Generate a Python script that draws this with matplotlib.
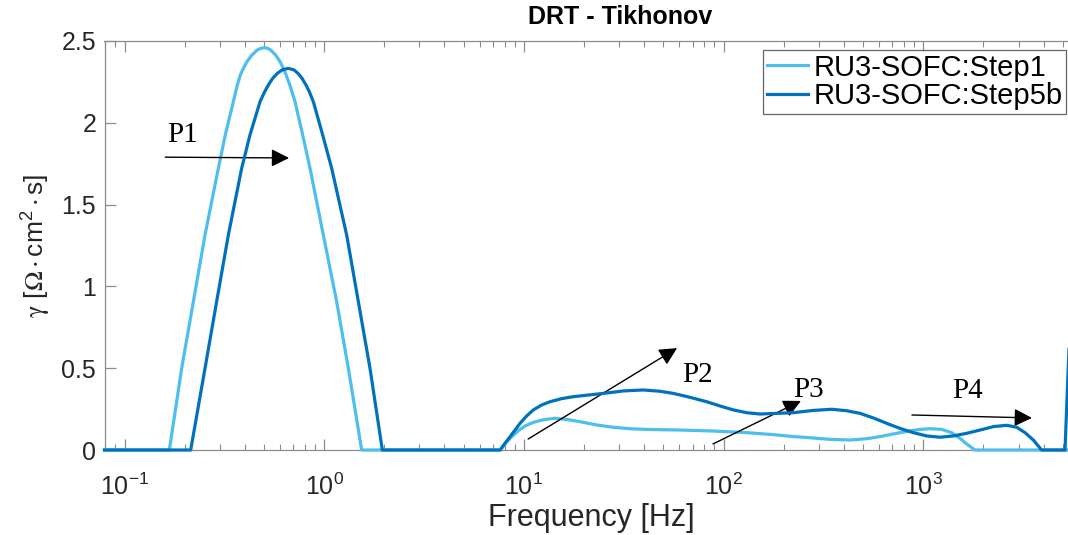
import matplotlib
matplotlib.use("Agg")
import matplotlib.pyplot as plt
from matplotlib.ticker import LogLocator, FixedLocator, FixedFormatter, NullFormatter

plt.rcParams['font.family'] = ['Liberation Sans', 'DejaVu Sans']
plt.rcParams['mathtext.fontset'] = 'stix'
plt.rcParams['mathtext.default'] = 'regular'

# ---- data ----
freq_step1 = [0.0794, 0.1677, 0.1933, 0.2212, 0.2530, 0.2950, 0.3197, 0.3507, 0.3673, 0.3802,
              0.3937, 0.4106, 0.4341, 0.4625, 0.4807, 0.5014, 0.5208, 0.5391, 0.5715, 0.6006,
              0.6243, 0.6449, 0.6730, 0.7143, 0.7801, 0.8490,
              0.9901, 1.1545, 1.3209, 1.540,
              7.65, 8.20, 8.69, 9.38, 10.13, 11.15, 12.51, 14.31, 16.38, 19.10, 23.14, 28.05,
              33.98, 41.19, 60.48, 88.8, 130.5, 177.5, 223.5, 270.8, 341.1, 429.5, 520.5,
              607.0, 707.9, 825.5, 962.7, 1080.3, 1236, 1387, 1527, 1649, 1815, 10000]
gamma_step1 = [0, 0, 0.499, 0.907, 1.314, 1.722, 1.926, 2.129, 2.231, 2.292,
               2.333, 2.374, 2.414, 2.445, 2.455, 2.459, 2.455, 2.445, 2.414, 2.374,
               2.333, 2.292, 2.231, 2.129, 1.926, 1.722,
               1.314, 0.907, 0.499, 0,
               0, 0.051, 0.081, 0.118, 0.147, 0.169, 0.185, 0.194, 0.187, 0.173, 0.153, 0.139,
               0.130, 0.126, 0.122, 0.116, 0.106, 0.094, 0.082, 0.075, 0.065, 0.061, 0.069,
               0.082, 0.098, 0.114, 0.126, 0.130, 0.126, 0.106, 0.071, 0.037, 0, 0]

freq_step5b = [0.0794, 0.2145, 0.2530, 0.2893, 0.3311, 0.3861, 0.4250, 0.4772, 0.5034, 0.5253,
               0.5521, 0.5825, 0.6146, 0.6612, 0.7064, 0.7395, 0.7739, 0.8108, 0.8424, 0.8823,
               0.9824, 1.0899, 1.2957, 1.4823, 1.6957, 1.9545,
               7.59, 8.04, 8.52, 9.03, 9.56, 10.32, 11.15, 12.27, 13.51, 15.46, 17.69, 21.02,
               24.99, 31.48, 39.65, 48.04, 56.02, 67.88, 82.27, 95.94, 111.9, 130.5, 152.2,
               184.4, 223.5, 281.4, 347.6, 413.4, 482.1, 562.2, 655.7, 764.6, 891.5, 1039.7,
               1212.5, 1414, 1649, 1923, 2243, 2616, 2935, 3231, 3556, 3915, 5124, 5321, 5530]
gamma_step5b = [0, 0, 0.499, 0.907, 1.314, 1.722, 1.926, 2.129, 2.190, 2.231,
                2.272, 2.302, 2.323, 2.333, 2.323, 2.302, 2.272, 2.231, 2.190, 2.129,
                1.926, 1.722, 1.314, 0.907, 0.499, 0,
                0, 0.041, 0.081, 0.122, 0.163, 0.208, 0.245, 0.275, 0.295, 0.314, 0.326, 0.336,
                0.346, 0.361, 0.367, 0.359, 0.346, 0.322, 0.295, 0.269, 0.245, 0.228, 0.220,
                0.224, 0.228, 0.242, 0.249, 0.240, 0.224, 0.196, 0.163, 0.132, 0.106, 0.086,
                0.078, 0.086, 0.102, 0.122, 0.143, 0.151, 0.139, 0.106, 0.061, 0, 0, 0.509, 1.0]

series_labels = ['RU3-SOFC:Step1', 'RU3-SOFC:Step5b']
series_colors = ['#4DBEEE', '#0072BD']

y_ticks = [0, 0.5, 1, 1.5, 2, 2.5]
y_ticklabels = ['0', '0.5', '1', '1.5', '2', '2.5']
x_ticks = [0.1, 1, 10, 100, 1000, 10000]
x_ticklabels = [r'$10^{-1}$', r'$10^{0}$', r'$10^{1}$', r'$10^{2}$', r'$10^{3}$', '']

# ---- figure ----
W, H = 1068, 535
fig = plt.figure(figsize=(W / 100, H / 100), dpi=100)
ax_left, ax_right, ax_bottom, ax_top = 104.5 / W, 1123 / W, 1 - 450 / H, 1 - 41 / H
ax = fig.add_axes([ax_left, ax_bottom, ax_right - ax_left, ax_top - ax_bottom])

ax.plot(freq_step1, gamma_step1, color=series_colors[0], lw=2.3, label=series_labels[0],
        clip_on=False, solid_joinstyle='round', zorder=3)
ax.plot(freq_step5b, gamma_step5b, color=series_colors[1], lw=2.3, label=series_labels[1],
        clip_on=False, solid_joinstyle='round', zorder=4)

ax.set_xscale('log')
ax.set_xlim(0.0794, 1e4)
ax.set_ylim(0, 2.5)
ax.yaxis.set_major_locator(FixedLocator(y_ticks))
ax.yaxis.set_major_formatter(FixedFormatter(y_ticklabels))
ax.xaxis.set_major_locator(FixedLocator(x_ticks))
ax.xaxis.set_major_formatter(FixedFormatter(x_ticklabels))
ax.xaxis.set_minor_locator(LogLocator(base=10, subs=range(2, 10), numticks=50))
ax.xaxis.set_minor_formatter(NullFormatter())

spine_col = '#8c8c8c'
for side in ['left', 'top', 'bottom']:
    ax.spines[side].set_color(spine_col)
    ax.spines[side].set_linewidth(0.9)
ax.spines['right'].set_visible(False)

ax.tick_params(axis='both', which='both', direction='in', colors=spine_col,
               labelcolor='#262626', top=True, right=False)
ax.tick_params(axis='both', which='major', length=8, width=0.9, labelsize=18)
ax.tick_params(axis='x', which='minor', length=4, width=0.8)
ax.tick_params(axis='x', which='major', pad=17)
ax.tick_params(axis='y', which='major', pad=6)

fig.text(591 / W, 1 - 518 / H, 'Frequency [Hz]', ha='center', va='center',
         fontsize=22, color='#262626')
ax.set_ylabel(r'$\mathrm{\gamma}$ [$\mathrm{\Omega}\cdot$cm$^{2}\cdot$s]', fontsize=19,
              color='#262626', labelpad=6)

fig.text(620 / W, 1 - 17 / H, 'DRT - Tikhonov', ha='center', va='center',
         fontsize=18, fontweight='bold', color='black')

leg = ax.legend(loc='upper right', bbox_to_anchor=(1066 / W, 1 - 50 / H),
                bbox_transform=fig.transFigure, fontsize=21, frameon=True, fancybox=False,
                edgecolor='#404040', borderaxespad=0, handlelength=1.4, handletextpad=0.2,
                borderpad=0.12, labelspacing=0.02)
leg.get_frame().set_linewidth(0.9)

# ---- annotations ----
arrow_kw = dict(arrowstyle='-|>,head_length=0.6,head_width=0.3', color='black',
                lw=1.0, mutation_scale=18, shrinkA=0, shrinkB=0)
txt_kw = dict(fontsize=21, family='Liberation Serif', color='black', va='baseline', ha='left')

ax.annotate('', xy=(0.667, 1.785), xytext=(0.160, 1.79), arrowprops=arrow_kw)
ax.text(0.163, 1.883, 'P1', **txt_kw)
ax.annotate('', xy=(58.5, 0.623), xytext=(10.5, 0.067), arrowprops=arrow_kw)
ax.text(61.9, 0.416, 'P2', **txt_kw)
ax.annotate('', xy=(244, 0.30), xytext=(88.5, 0.037), arrowprops=arrow_kw)
ax.text(222, 0.324, 'P3', **txt_kw)
ax.annotate('', xy=(3500, 0.196), xytext=(877, 0.214), arrowprops=arrow_kw)
ax.text(1390, 0.318, 'P4', **txt_kw)

fig.savefig('out.png', dpi=100)
